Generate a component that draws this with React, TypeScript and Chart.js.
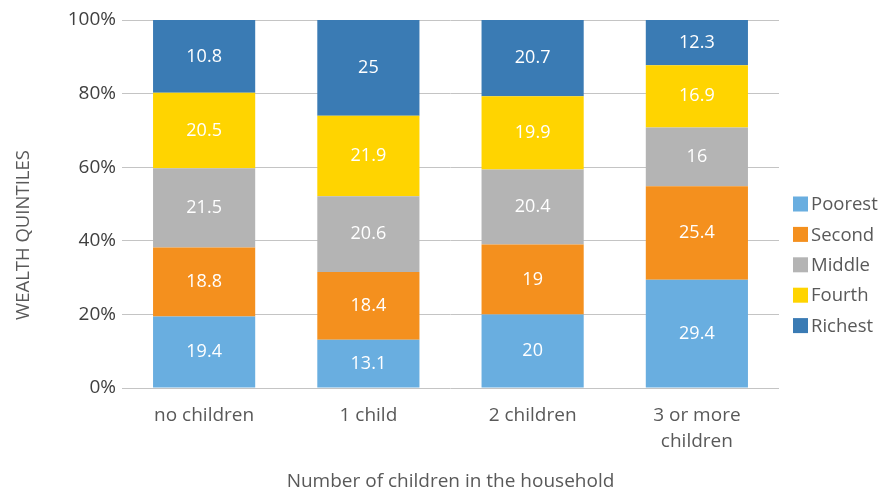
import React, { useEffect, useRef } from "react";
import { Chart, registerables } from "chart.js";

Chart.register(...registerables);

const categories: (string | string[])[] = ["no children", "1 child", "2 children", ["3 or more", "children"]];
const seriesNames = ["Poorest", "Second", "Middle", "Fourth", "Richest"];
// bar heights (percentage points) as drawn
const poorest = [19.4, 13.1, 20, 29.4];
const second = [18.8, 18.4, 19, 25.4];
const middle = [21.5, 20.6, 20.4, 16];
const fourth = [20.5, 21.9, 19.9, 16.9];
const richest = [19.8, 26, 20.7, 12.3];
// labels printed on the segments
const poorestLabels = ["19.4", "13.1", "20", "29.4"];
const secondLabels = ["18.8", "18.4", "19", "25.4"];
const middleLabels = ["21.5", "20.6", "20.4", "16"];
const fourthLabels = ["20.5", "21.9", "19.9", "16.9"];
const richestLabels = ["10.8", "25", "20.7", "12.3"];
const colors = ["#69AEE0", "#F4901E", "#B4B4B4", "#FFD400", "#3A7BB4"];
const yTicks = [0, 20, 40, 60, 80, 100];
const yTitle = "WEALTH QUINTILES";
const xTitle = "Number of children in the household";

const FONT = "'Open Sans', sans-serif";

export default function App() {
  const ref = useRef<HTMLCanvasElement | null>(null);
  useEffect(() => {
    const values = [poorest, second, middle, fourth, richest];
    const labels = [poorestLabels, secondLabels, middleLabels, fourthLabels, richestLabels];
    const datasets = values.map((arr, k) => ({
      label: seriesNames[k],
      data: arr,
      segLabels: labels[k],
      backgroundColor: colors[k],
      borderWidth: 0,
      categoryPercentage: 1,
      barPercentage: 0.622,
    }));

    const labelsPlugin = {
      id: "segLabels",
      afterDatasetsDraw(chart: any) {
        const ctx = chart.ctx;
        ctx.save();
        ctx.fillStyle = "#ffffff";
        ctx.font = `18px ${FONT}`;
        ctx.textAlign = "center";
        ctx.textBaseline = "middle";
        chart.data.datasets.forEach((ds: any, di: number) => {
          const meta = chart.getDatasetMeta(di);
          meta.data.forEach((el: any, i: number) => {
            const y = (el.y + el.base) / 2;
            ctx.fillText(ds.segLabels[i], el.x, y);
          });
        });
        ctx.restore();
      },
    };

    const legendPlugin = {
      id: "sideLegend",
      afterDraw(chart: any) {
        const ctx = chart.ctx;
        const area = chart.chartArea;
        ctx.save();
        ctx.font = `18.5px ${FONT}`;
        ctx.textBaseline = "middle";
        ctx.textAlign = "left";
        const x0 = area.right + 14;
        const y0 = area.top + 184;
        chart.data.datasets.forEach((ds: any, i: number) => {
          const y = y0 + i * 30.4;
          ctx.fillStyle = ds.backgroundColor;
          ctx.fillRect(x0, y - 7.5, 15, 15);
          ctx.fillStyle = "#595959";
          ctx.fillText(ds.label, x0 + 18, y + 1);
        });
        // rotated y-axis title
        const ys = chart.scales.y;
        ctx.translate(ys.left + 14, (area.top + area.bottom) / 2 + 31);
        ctx.rotate(-Math.PI / 2);
        ctx.textAlign = "center";
        ctx.font = `18.5px ${FONT}`;
        ctx.fillStyle = "#595959";
        ctx.fillText(yTitle, 0, 0);
        ctx.restore();
      },
    };

    const chart = new Chart(ref.current!, {
      type: "bar",
      data: { labels: categories as any, datasets: datasets as any },
      options: {
        animation: false,
        responsive: true,
        maintainAspectRatio: false,
        layout: { padding: { top: 20, right: 103, bottom: 0, left: 10 } },
        plugins: { legend: { display: false }, tooltip: { enabled: false } },
        scales: {
          x: {
            stacked: true,
            grid: { display: false },
            border: { display: false },
            ticks: { color: "#595959", font: { family: FONT, size: 19, lineHeight: 1.37 }, padding: 7 },
            title: {
              display: true,
              text: xTitle,
              color: "#595959",
              font: { family: FONT, size: 19 },
              padding: { top: 0, bottom: -4 },
            },
            afterFit(scale: any) {
              scale.height = 101;
            },
          },
          y: {
            stacked: true,
            min: 0,
            max: 100,
            afterBuildTicks(scale: any) {
              scale.ticks = yTicks.map((v) => ({ value: v }));
            },
            grid: { color: "#C4C4C4", lineWidth: 1, drawTicks: false },
            border: { display: false },
            ticks: {
              color: "#404040",
              font: { family: FONT, size: 19 },
              padding: 6,
              callback: (v: any) => `${v}%`,
            },
            afterFit(scale: any) {
              scale.width = 112;
            },
          },
        },
      },
      plugins: [labelsPlugin, legendPlugin],
    });
    return () => chart.destroy();
  }, []);

  return (
    <div style={{ position: "absolute", left: 0, top: 0, width: 882, height: 489 }}>
      <canvas ref={ref} />
    </div>
  );
}
